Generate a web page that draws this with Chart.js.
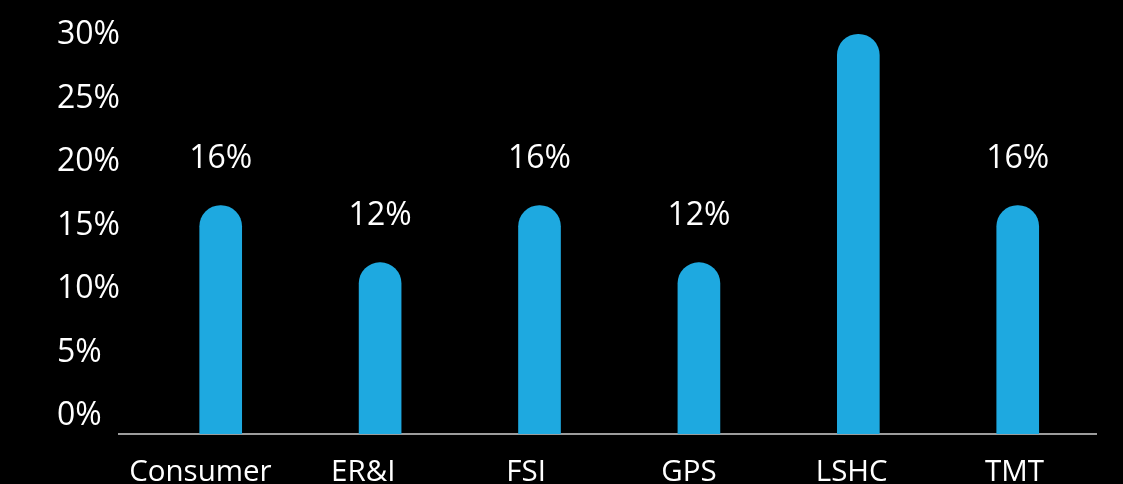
<!DOCTYPE html>
<html>
<head>
<meta charset="utf-8">
<script src="https://cdn.jsdelivr.net/npm/chart.js@4/dist/chart.umd.min.js"></script>
<style>
    html, body { margin: 0; padding: 0; background: #000; }
    #wrap { position: relative; width: 1123px; height: 484px; }
</style>
</head>
<body>
<div id="wrap"><canvas id="sectorchart"></canvas></div>
<script>
"use strict";

/* data */
var sectors = ['Consumer', 'ER&I', 'FSI', 'GPS', 'LSHC', 'TMT'];
var shares = [16, 12, 16, 12, 28, 16];
var shareLabels = ['16%', '12%', '16%', '12%', '', '16%'];
var yTicks = [0, 5, 10, 15, 20, 25, 30];

var barColor = '#1ea9e0';
var fontFamily = '"Open Sans", "Noto Sans", sans-serif';

/* value labels over bars */
var valueLabels = {
    id: 'valueLabels',
    afterDatasetsDraw: function (chart) {
        var ctx = chart.ctx;
        var meta = chart.getDatasetMeta(0);
        ctx.save();
        ctx.fillStyle = '#ffffff';
        ctx.font = '32px ' + fontFamily;
        ctx.textAlign = 'center';
        ctx.textBaseline = 'alphabetic';
        meta.data.forEach(function (bar, i) {
            if (shareLabels[i]) {
                ctx.fillText(shareLabels[i], bar.x, bar.y - 38);
            }
        });
        ctx.restore();
    }
};

var barData = shares.map(function (v, i) {
    return { x: i, y: v };
});

var ctx = document.getElementById('sectorchart').getContext('2d');
var sectorChart = new Chart(ctx, {
    type: 'bar',
    data: {
        labels: sectors,
        datasets: [{
            data: barData,
            xAxisID: 'xb',
            yAxisID: 'yb',
            backgroundColor: barColor,
            borderWidth: 0,
            barThickness: 42,
            borderRadius: { topLeft: 21, topRight: 21 },
            borderSkipped: 'start'
        }]
    },
    options: {
        responsive: true,
        maintainAspectRatio: false,
        animation: false,
        layout: {
            padding: { left: 57, right: 27, top: 20, bottom: 0 }
        },
        plugins: {
            legend: { display: false },
            tooltip: { enabled: false }
        },
        scales: {
            /* bar scales (hidden) */
            xb: {
                type: 'linear',
                display: false,
                offset: false,
                min: -0.638,
                max: 5.491
            },
            yb: {
                type: 'linear',
                display: false,
                min: 0,
                max: 29.0
            },
            /* visible category axis */
            x: {
                type: 'category',
                position: 'bottom',
                offset: true,
                grid: { display: false, drawTicks: false },
                border: { display: true, color: '#9c9c9c', width: 2 },
                ticks: {
                    color: '#ffffff',
                    padding: 21,
                    maxRotation: 0,
                    autoSkip: false,
                    font: { family: fontFamily, size: 29.5 }
                },
                afterFit: function (scale) {
                    scale.height = 50;
                }
            },
            /* visible percent axis */
            y: {
                type: 'linear',
                position: 'left',
                min: -1.42,
                max: 31.18,
                grid: { display: false, drawTicks: false },
                border: { display: false },
                afterBuildTicks: function (scale) {
                    scale.ticks = yTicks.map(function (v) {
                        return { value: v };
                    });
                },
                ticks: {
                    color: '#ffffff',
                    crossAlign: 'far',
                    padding: 0,
                    font: { family: fontFamily, size: 32 },
                    callback: function (value) {
                        return value + '%';
                    }
                },
                afterFit: function (scale) {
                    scale.width = 62;
                }
            }
        }
    },
    plugins: [valueLabels]
});
</script>
</body>
</html>
